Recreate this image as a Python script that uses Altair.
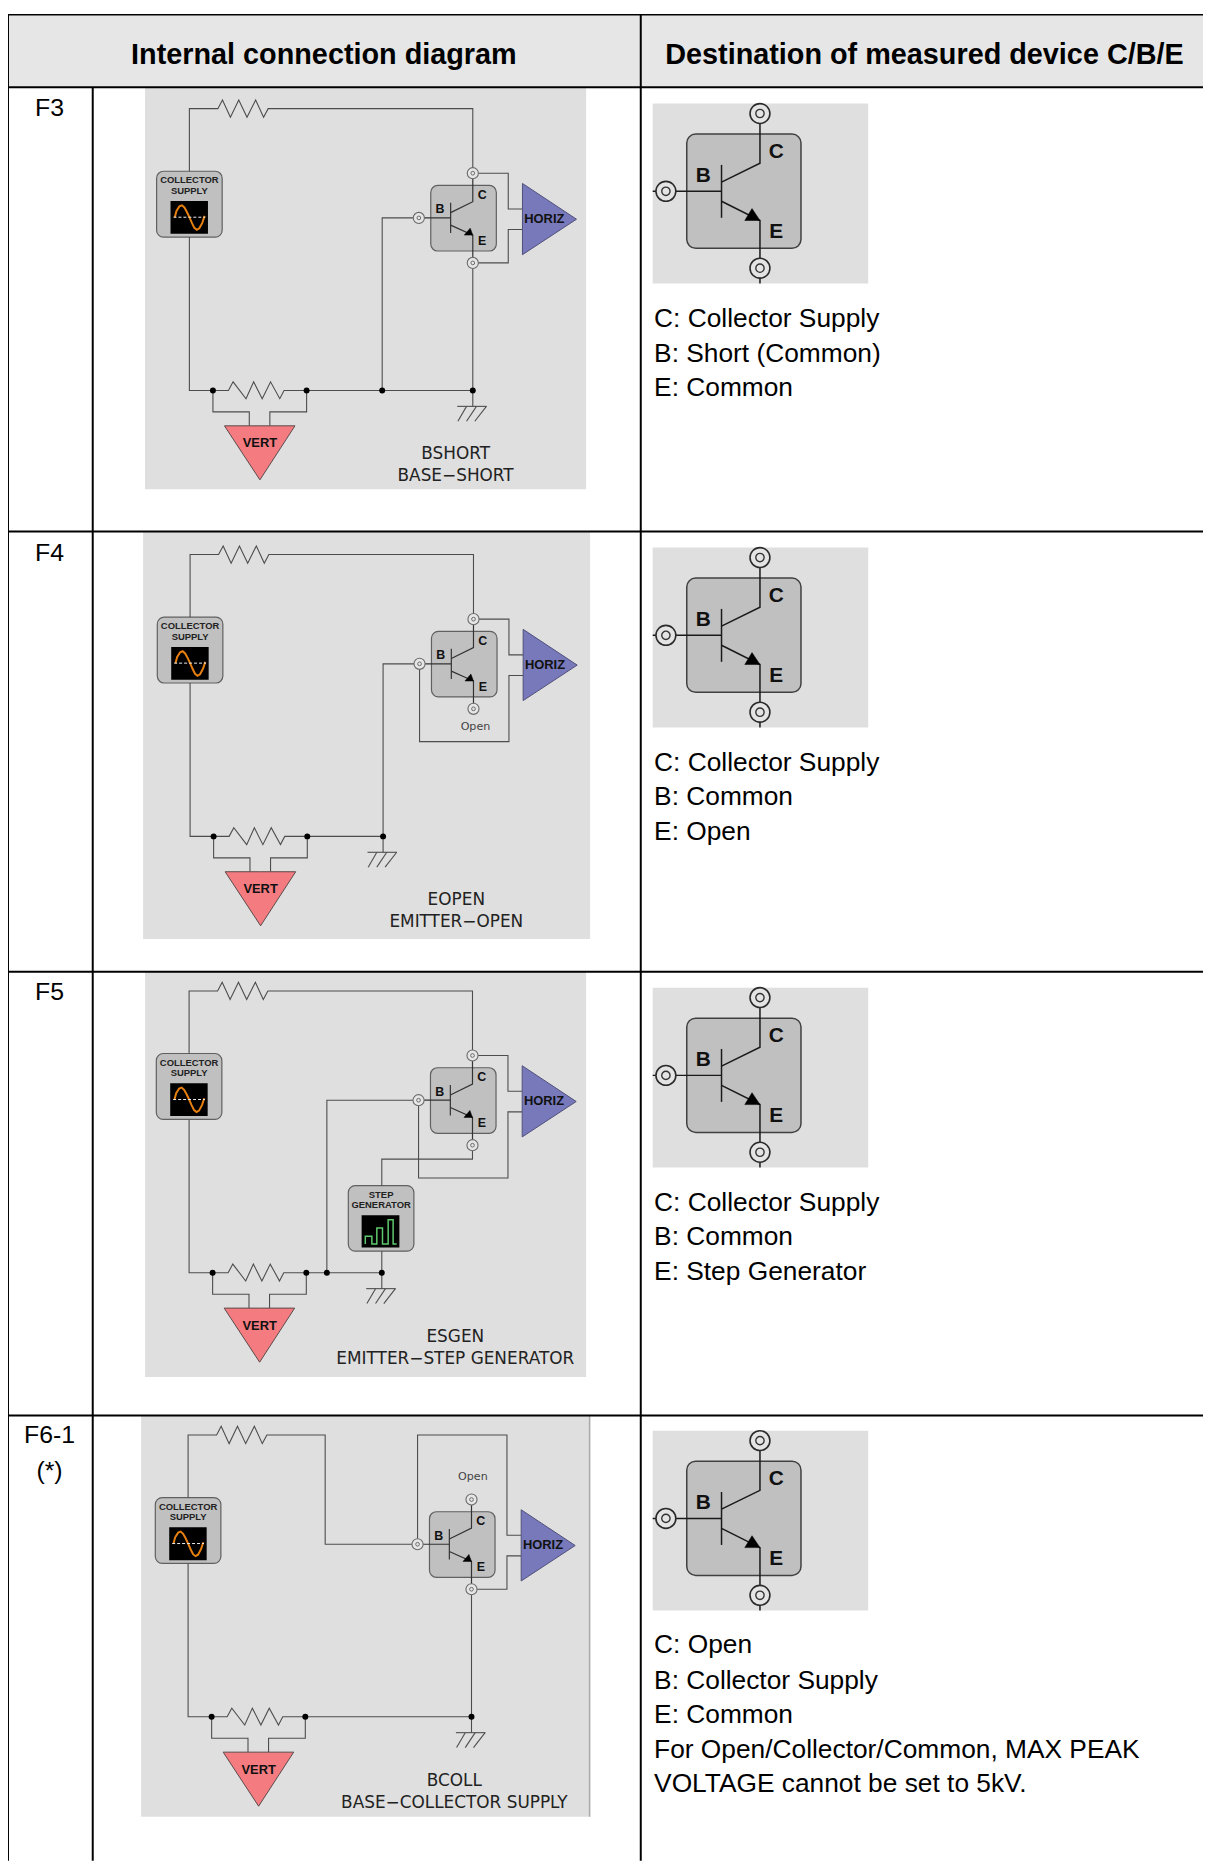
import altair as alt
import pandas as pd

# ---- table geometry (reference pixels) ----
H_RULES = [[9, 81.5, 1211, 81.5], [9, 528.7, 1211, 528.7], [9, 972, 1211, 972], [9, 1418.7, 1211, 1418.7]]
V_RULES = [[8, 8, 8, 1867], [93.3, 81.5, 93.3, 1867], [645, 8, 645, 1867]]
TOP_BAND = [8, 9]
HEADERS = ["Internal connection diagram", "Destination of measured device C/B/E"]
HEADER_X = [326, 930.6]
HEADER_Y = 49
ROW_LABELS = [("F3", 102.5), ("F4", 550), ("F5", 992.5), ("F6-1", 1438), ("(*)", 1475)]

# ---- left panels ----
PANEL_ORIGIN = {"F3": (190.6, 103.1), "F4": (191.3, 552), "F5": (190.3, 991.3), "F6": (189.3, 1438.3)}
PANEL_BG = {"F3": (145.9, 590, 82.2, 486.3), "F4": (144, 594, 529.3, 939),
            "F5": (146, 590, 972, 1380), "F6": (142, 594, 1418.7, 1822.7)}
TOP_RES = [(28.7, 0), (33.3, -8.7), (41.3, 8.7), (49.7, -8.7), (58, 8.7), (66.7, -8.7), (74.7, 8.7), (79.3, 0)]
BOT_RES = [(39.3, 283.7), (44, 275), (57, 292), (64.7, 275), (73.3, 292), (81.7, 275), (91, 292), (95.3, 283.7)]
TOP_WIRE = [(0, 63), (0, 0)] + TOP_RES
BOT_WIRE = [(0, 129.3), (0, 283.7)] + BOT_RES
VERT_L = [(23.7, 283.7), (23.7, 305.3), (60.3, 305.3), (60.3, 319.3)]
VERT_R = [(118, 283.7), (118, 305.3), (81, 305.3), (81, 319.3)]
HORIZ_UP = [(321, 101), (335.3, 101)]
HORIZ_LO = [(321, 121.7), (335.3, 121.7)]
C_TO_HORIZ = [(285.3, 65), (321, 65)] + HORIZ_UP
E_TO_HORIZ = [(285.3, 155.3), (321, 155.3)] + HORIZ_LO
B_TO_HORIZ = [(231, 110), (231, 188.3), (321, 188.3)] + HORIZ_LO
T_LEAD = [(231, 110), (263, 110)]
T_BAR = [(263, 94.7), (263, 125.3)]
T_COLL = [(263, 104.7), (285.3, 93.7), (285.3, 65)]
T_EMIT = [(263, 117.3), (285.3, 127.3), (285.3, 155.3)]

PANEL_WIRES = {
    "F3": [TOP_WIRE + [(285.3, 0), (285.3, 65)], BOT_WIRE + [(285.3, 283.7)], C_TO_HORIZ, E_TO_HORIZ,
           [(285.3, 155.3), (285.3, 283.7)], [(231, 110), (194.1, 110), (194.1, 283.7)]],
    "F4": [TOP_WIRE + [(285.3, 0), (285.3, 65)], BOT_WIRE + [(194.3, 283.7)], C_TO_HORIZ, B_TO_HORIZ,
           [(231, 110), (194.3, 110), (194.3, 283.7)]],
    "F5": [TOP_WIRE + [(285.3, 0), (285.3, 65)], BOT_WIRE + [(194, 283.7)], C_TO_HORIZ, B_TO_HORIZ,
           [(231, 110), (138.7, 110), (138.7, 283.7)],
           [(285.3, 155.3), (285.3, 169.3), (194, 169.3), (194, 196)], [(194, 262), (194, 283.7)]],
    "F6": [TOP_WIRE + [(138, 0), (138, 110), (231, 110)], BOT_WIRE + [(285.3, 283.7)], E_TO_HORIZ,
           [(231, 110), (231, 0), (321, 0)] + HORIZ_UP, [(285.3, 155.3), (285.3, 283.7)]],
}
PANEL_NODES = {"F3": [23.7, 118, 194.1, 285.3], "F4": [23.7, 118, 194.3], "F5": [23.7, 118, 138.7, 194],
               "F6": [23.7, 118, 285.3]}
PANEL_GROUND = {"F3": 285.3, "F4": 194.3, "F5": 194, "F6": 285.3}
GROUND_BAR = [(-15.7, 299.7), (14, 299.7)]
GROUND_HATCH = [[(-6.3, 299.7), (-15, 314.7)], [(3.7, 299.7), (-6.3, 314.7)], [(13.7, 299.7), (2, 314.7)]]
PANEL_LABELS = {"F3": ("BSHORT", "BASE\u2212SHORT"), "F4": ("EOPEN", "EMITTER\u2212OPEN"),
                "F5": ("ESGEN", "EMITTER\u2212STEP GENERATOR"), "F6": ("BCOLL", "BASE\u2212COLLECTOR SUPPLY")}
OPEN_LABEL = {"F4": (287.3, 173.7), "F6": (286.7, 42)}
SUPPLY_BOX = (-33, 33, 63, 129.3)
SUPPLY_SCREEN = (-19, 18.7, 93, 126)
DEVICE_BOX = (243, 309, 77.3, 143.3)
STEP_BOX = (160.3, 226.3, 196, 262)
STEP_SCREEN = (173.7, 211.7, 225.7, 258.3)
SINE_WAVE = [(-14.7, 109.3), (-13, 103), (-10, 98.3), (-7.5, 97.3), (-5, 99.5), (-2.5, 104), (0, 109.3),
             (2.5, 115), (5, 120), (7.5, 122), (10, 120.5), (13, 115), (15.3, 108)]
SINE_AXIS = [(-16, 109.3), (16, 109.3)]
STEP_WAVE = [(177.4, 254.7), (177.4, 247), (184, 247), (184, 254.7), (189, 254.7), (189, 238.7), (194.7, 238.7),
             (194.7, 254.7), (200.4, 254.7), (200.4, 230.3), (205.4, 230.3), (205.4, 254.7), (209, 254.7)]
HORIZ_TRI = [(335.3, 75.3, 147), (389.7, 111.3, 111.3)]
VERT_TRI = [(35.3, 319.3, 319.3), (71, 319.3, 373.7), (106.3, 319.3, 319.3)]
ARROW_TRI = [(276.7, 127.3, 127.3), (282.7, 120.3, 127.3), (285.3, 127.3, 127.3)]

# ---- right panels ----
DEVICE_ORIGIN_X = 657
DEVICE_TOPS = {"F3": 98, "F4": 545, "F5": 988, "F6": 1434}
DEV_BG = (0, 217, 0, 181)
DEV_BOX = (34.3, 149.3, 30.7, 145.7)
DEV_LINES = [[(108, 0), (108, 60), (69.3, 79)], [(0, 88.3), (69.3, 88.3)], [(69.3, 61.7), (69.3, 115)],
             [(69.3, 98.3), (108, 117.7), (108, 181)]]
DEV_ARROW = [(92.7, 117.7, 117.7), (100, 105.7, 117.7), (108, 117.7, 117.7)]
DEV_CONN = [(108, 10), (13.3, 88.3), (108, 165.7)]
DEV_LETTERS = [("C", 124.3, 48.3), ("B", 51, 73.3), ("E", 124.3, 129)]
DEST_TEXT = {
    "F3": [("C: Collector Supply", 315), ("B: Short (Common)", 350), ("E: Common", 384)],
    "F4": [("C: Collector Supply", 762), ("B: Common", 796), ("E: Open", 831)],
    "F5": [("C: Collector Supply", 1205), ("B: Common", 1239), ("E: Step Generator", 1274)],
    "F6": [("C: Open", 1650), ("B: Collector Supply", 1686), ("E: Common", 1720),
           ("For Open/Collector/Common, MAX PEAK", 1755), ("VOLTAGE cannot be set to 5kV.", 1789.5)],
}

# ---- scales ----
W, H = 1203, 1859
XS = alt.Scale(domain=[8, 1211], nice=False, zero=False)
YS = alt.Scale(domain=[1867, 8], nice=False, zero=False)
X = alt.X("x:Q", scale=XS, axis=None)
Y = alt.Y("y:Q", scale=YS, axis=None)


def to_lines(polys):
    rows = []
    for g, pts in enumerate(polys):
        for i, (x, y) in enumerate(pts):
            rows.append({"g": g, "i": i, "x": x, "y": y})
    return pd.DataFrame(rows)


def lines(polys, color, width, **kw):
    return alt.Chart(to_lines(polys)).mark_line(color=color, strokeWidth=width, **kw).encode(
        x=X, y=Y, detail="g:N", order="i:Q")


def rects(boxes, fill, stroke=None, sw=0, radius=0):
    df = pd.DataFrame([{"x": b[0], "x2": b[1], "y": b[2], "y2": b[3]} for b in boxes])
    opts = dict(fill=fill, opacity=1)
    if stroke:
        opts.update(stroke=stroke, strokeWidth=sw)
    if radius:
        opts.update(cornerRadius=radius)
    return alt.Chart(df).mark_rect(**opts).encode(x=X, x2="x2:Q", y=Y, y2="y2:Q")


def points(pts, size, fill, stroke=None, sw=1):
    df = pd.DataFrame([{"x": p[0], "y": p[1]} for p in pts])
    opts = dict(shape="circle", size=size, opacity=1, filled=True, fill=fill)
    if stroke:
        opts.update(stroke=stroke, strokeWidth=sw)
    return alt.Chart(df).mark_point(**opts).encode(x=X, y=Y)


def tris(tri_list, fill, stroke, sw=1):
    rows = []
    for g, tri in enumerate(tri_list):
        for x, y, y2 in tri:
            rows.append({"g": g, "x": x, "y": y, "y2": y2})
    return alt.Chart(pd.DataFrame(rows)).mark_area(fill=fill, stroke=stroke, strokeWidth=sw, opacity=1).encode(
        x=X, y=Y, y2="y2:Q", detail="g:N")


def texts(rows, size, font="Liberation Sans", weight="normal", color="#000000", align="center"):
    df = pd.DataFrame([{"t": r[0], "x": r[1], "y": r[2]} for r in rows])
    return alt.Chart(df).mark_text(fontSize=size, font=font, fontWeight=weight, color=color, align=align,
                                   baseline="middle").encode(x=X, y=Y, text="t:N")


def shift(pts, o):
    return [(p[0] + o[0], p[1] + o[1]) for p in pts]


def shift_box(b, o):
    return (b[0] + o[0], b[1] + o[0], b[2] + o[1], b[3] + o[1])


def shift_tri(t, o):
    return [(p[0] + o[0], p[1] + o[1], p[2] + o[1]) for p in t]


wire_polys, tran_polys, sine, axis_dash, step, nodes, conns, conns_in = [], [], [], [], [], [], [], []
supply_boxes, screens, device_boxes = [], [], []
h_tri, v_tri, a_tri = [], [], []
txt_col, txt_hv, txt_cbe, txt_lab, txt_open = [], [], [], [], []

for name, o in PANEL_ORIGIN.items():
    for w in PANEL_WIRES[name] + [VERT_L, VERT_R]:
        wire_polys.append(shift(w, o))
    for t in [T_LEAD, T_BAR, T_COLL, T_EMIT]:
        tran_polys.append(shift(t, o))
    g = PANEL_GROUND[name]
    wire_polys.append(shift([(g, 283.7), (g, 299.7)], o))
    wire_polys.append(shift([(g + p[0], p[1]) for p in GROUND_BAR], o))
    for h in GROUND_HATCH:
        wire_polys.append(shift([(g + p[0], p[1]) for p in h], o))
    for n in PANEL_NODES[name]:
        nodes.append((n + o[0], 283.7 + o[1]))
    for c in [(285.3, 65), (231, 110), (285.3, 155.3)]:
        conns.append((c[0] + o[0], c[1] + o[1]))
    supply_boxes.append(shift_box(SUPPLY_BOX, o))
    device_boxes.append(shift_box(DEVICE_BOX, o))
    screens.append(shift_box(SUPPLY_SCREEN, o))
    sine.append(shift(SINE_WAVE, o))
    axis_dash.append(shift(SINE_AXIS, o))
    h_tri.append(shift_tri(HORIZ_TRI, o))
    v_tri.append(shift_tri(VERT_TRI, o))
    a_tri.append(shift_tri(ARROW_TRI, o))
    txt_col += [("COLLECTOR", o[0], o[1] + 72.3), ("SUPPLY", o[0], o[1] + 82.7)]
    txt_hv += [("HORIZ", o[0] + 357.3, o[1] + 111), ("VERT", o[0] + 71, o[1] + 337)]
    txt_cbe += [("C", o[0] + 294.7, o[1] + 87), ("B", o[0] + 252.3, o[1] + 101.3), ("E", o[0] + 294.7, o[1] + 133.3)]
    a, b = PANEL_LABELS[name]
    txt_lab += [(a, o[0] + 268, o[1] + 348), (b, o[0] + 268, o[1] + 370.3)]
    if name in OPEN_LABEL:
        txt_open.append(("Open", o[0] + OPEN_LABEL[name][0], o[1] + OPEN_LABEL[name][1]))
    if name == "F5":
        supply_boxes.append(shift_box(STEP_BOX, o))
        screens.append(shift_box(STEP_SCREEN, o))
        step.append(shift(STEP_WAVE, o))
        txt_col += [("STEP", o[0] + 193.3, o[1] + 205), ("GENERATOR", o[0] + 193.3, o[1] + 215.3)]

dev_bgs, dev_boxes, dev_lines, dev_arrows, dev_conns, dev_letters, body = [], [], [], [], [], [], []
for name, top in DEVICE_TOPS.items():
    o = (DEVICE_ORIGIN_X, top)
    dev_bgs.append(shift_box(DEV_BG, o))
    dev_boxes.append(shift_box(DEV_BOX, o))
    dev_lines += [shift(l, o) for l in DEV_LINES]
    dev_arrows.append(shift_tri(DEV_ARROW, o))
    dev_conns += shift(DEV_CONN, o)
    dev_letters += [(t, x + o[0], y + o[1]) for t, x, y in DEV_LETTERS]
    body += [(t, 658.4, y) for t, y in DEST_TEXT[name]]

table_polys = [[(r[0], r[1]), (r[2], r[3])] for r in H_RULES + V_RULES]
edge = PANEL_BG["F6"]

layers = [
    rects([(9, 1211, 9, 81)], "#e6e6e6"),
    rects(list(PANEL_BG.values()), "#dfdfdf"),
    rects(dev_bgs, "#dfdfdf"),
    lines([[(593.5, edge[2]), (593.5, edge[3])]], "#a8a8a8", 1.5),
    rects(supply_boxes, "#c0c0c0", "#606060", 1.2, 7),
    rects(device_boxes, "#c0c0c0", "#606060", 1.2, 7),
    rects(dev_boxes, "#c0c0c0", "#404040", 1.5, 9),
    rects(screens, "#000000"),
    lines(wire_polys, "#4d4d4d", 1.1),
    lines(tran_polys, "#333333", 1.2),
    lines(dev_lines, "#1a1a1a", 1.5),
    lines(sine, "#e8800f", 2),
    lines(axis_dash, "#eeeeee", 1, strokeDash=[3, 2]),
    lines(step, "#5fc86e", 1.5),
    tris(h_tri, "#7779bb", "#50507a"),
    tris(v_tri, "#f47c80", "#5a4a4a"),
    tris(a_tri, "#000000", "#000000", 0.5),
    tris(dev_arrows, "#000000", "#000000", 0.5),
    points(nodes, 36, "#000000"),
    points(conns, 125, "#e6e6e6", "#6a6a6a", 1.1),
    points(conns, 14, "#e6e6e6", "#6a6a6a", 1),
    points(dev_conns, 400, "#e4e4e4", "#2a2a2a", 1.6),
    points(dev_conns, 70, "#e4e4e4", "#333333", 1.4),
    texts(txt_col, 9.5, weight="bold", color="#222222"),
    texts(txt_hv, 13, weight="bold", color="#111111"),
    texts(txt_cbe, 12.5, weight="bold", color="#111111"),
    texts(txt_lab, 17, font="DejaVu Sans", color="#222222"),
    texts(txt_open, 11.2, font="DejaVu Sans", color="#444444"),
    texts(dev_letters, 21, weight="bold", color="#111111"),
    texts([(t, x, HEADER_Y) for t, x in zip(HEADERS, HEADER_X)], 29, weight="bold"),
    texts([(t, 49.8, y) for t, y in ROW_LABELS], 25),
    texts(body, 26.5, align="left"),
    lines(table_polys, "#000000", 2),
    lines([[(8, 8.5), (1211, 8.5)]], "#000000", 1.5),
]

chart = alt.layer(*layers).properties(
    width=W, height=H, padding=0, autosize=alt.AutoSizeParams(type="none")
).configure_view(stroke=None)

chart.save("out.html", embed_options={"renderer": "svg", "actions": False})
